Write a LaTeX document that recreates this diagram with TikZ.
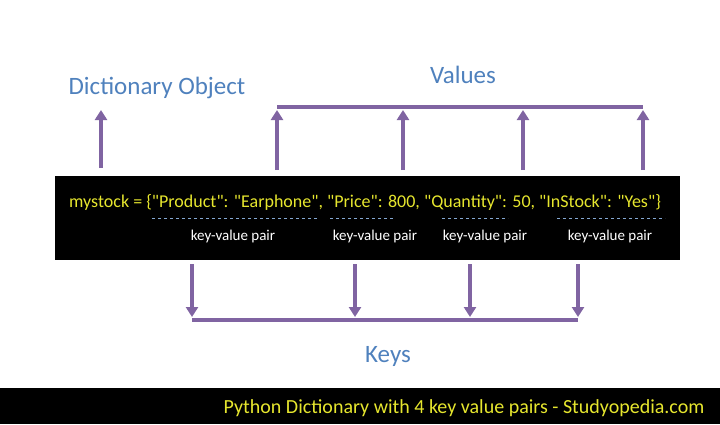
\documentclass[tikz,border=0pt]{standalone}
\usepackage{fontspec}
\setmainfont{Carlito}
\usetikzlibrary{positioning,arrows.meta}
\definecolor{arrowpurple}{HTML}{8064A2}
\definecolor{labelblue}{HTML}{4F81BD}
\definecolor{codeyellow}{HTML}{E6E62E}
\tikzset{
  up/.style={draw=arrowpurple,line width=3.5pt,-{Triangle[length=10pt,width=12pt]}},
  bar/.style={draw=arrowpurple,line width=3.5pt},
  title/.style={text=labelblue,font=\fontsize{25}{28}\selectfont},
  pair/.style={text=white,font=\fontsize{15}{17}\selectfont},
  pairline/.style={draw=labelblue!70,dashed,line width=0.6pt}
}
\begin{document}
\begin{tikzpicture}[x=1pt,y=-1pt]
	\useasboundingbox (0,0) rectangle (720,424);
	\fill[black] (55,176) rectangle (680,260);
	\fill[black] (0,388) rectangle (720,424);
	% code line
	\node (code) at (365,202) [text=codeyellow,font=\fontsize{18}{20}\selectfont]
		{mystock = \{\textquotedbl Product\textquotedbl: \textquotedbl Earphone\textquotedbl, \textquotedbl Price\textquotedbl: 800, \textquotedbl Quantity\textquotedbl: 50, \textquotedbl InStock\textquotedbl: \textquotedbl Yes\textquotedbl\}};
	\foreach \a/\b/\c in {152/318/233,330/395/375,442/508/485,557/665/610} {
		\draw[pairline] (\a,218) -- (\b,218);
		\node[pair] at (\c,236) {key-value pair};
	}
	% values
	\node (dict) at (157,88) [title] {Dictionary Object};
	\node (vals) at (463,75) [title] {Values};
	\coordinate (d0) at (101,168);
	\coordinate (d1) at (101,110);
	\draw[up] (d0) -- (d1);
	\draw[bar] (277,107) coordinate (v0) -- (643,107) coordinate (v1);
	\foreach \x in {277,403,523,643}
		\draw[up] (\x,170) -- (\x,110);
	% keys
	\node (keys) at (388,356) [title] {Keys};
	\draw[bar] (192,320) -- (578,320);
	\foreach \x in {192,355,470,578}
		\draw[up] (\x,264) -- (\x,317);
	\node (foot) at (464,408) [text=codeyellow,font=\fontsize{20}{22}\selectfont]
		{Python Dictionary with 4 key value pairs - Studyopedia.com};
\end{tikzpicture}
\end{document}
